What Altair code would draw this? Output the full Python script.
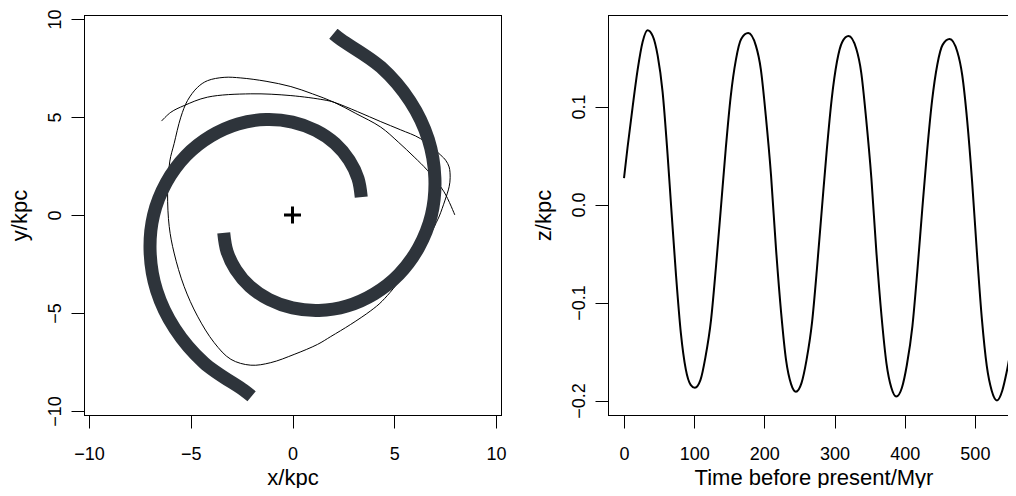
import altair as alt
import pandas as pd

# ---------------- data ----------------
# Left panel: orbit (thin line), in order along the path
orbit_x = [7.98, 7.45, 6.63, 5.98, 5.20, 4.34, 3.11, 2.04, 0.98, -0.08, -1.30, -2.54,
           -3.36, -4.18, -4.67, -5.16, -5.49, -5.82, -6.03, -6.14, -6.06, -5.82, -5.33,
           -4.67, -3.85, -3.03, -2.05, -1.07, 0.08, 1.23, 1.88, 2.86, 3.85, 4.40, 5.50,
           6.30, 6.80, 7.13, 7.22, 7.50, 7.70, 7.75, 7.70, 7.53, 7.29, 6.30, 5.30, 4.34,
           3.20, 2.04, 1.55, -0.08, -2.05, -4.18, -5.33, -5.98, -6.44]
orbit_y = [0.00, 1.18, 2.28, 2.96, 3.72, 4.48, 5.18, 5.75, 6.18, 6.55, 6.82, 6.99,
           7.02, 6.85, 6.51, 5.84, 4.99, 3.64, 2.75, 1.10, -0.59, -1.94, -3.64,
           -5.16, -6.51, -7.36, -7.66, -7.53, -7.11, -6.60, -6.20, -5.58, -4.88, -4.40, -3.05,
           -1.90, -0.95, -0.25, -0.05, 0.76, 1.44, 1.90, 2.45, 2.79, 3.05, 3.89, 4.35, 4.76,
           5.27, 5.75, 5.87, 6.09, 6.18, 6.01, 5.58, 5.24, 4.79]

# Spiral arm A (inner end near (3.4, 0.9), outer end near (-2.0, -9.25))
armA_x = [3.38, 3.22, 2.79, 2.10, 1.15, 0.00, -1.30, -2.68, -4.02, -5.24, -6.20, -6.83,
          -7.00, -6.68, -5.79, -4.35, -2.39, -2.01]
armA_y = [0.91, 1.86, 2.79, 3.64, 4.31, 4.74, 4.87, 4.64, 4.02, 3.02, 1.66, 0.00,
          -1.88, -3.85, -5.79, -7.54, -8.94, -9.25]
# Spiral arm B (inner end near (-3.4, -0.9), outer end near (2.0, 9.25))
armB_x = [-3.38, -3.22, -2.79, -2.10, -1.15, 0.00, 1.30, 2.68, 4.02, 5.24, 6.20, 6.83,
          7.00, 6.68, 5.79, 4.35, 2.39, 2.01]
armB_y = [-0.91, -1.86, -2.79, -3.64, -4.31, -4.74, -4.87, -4.64, -4.02, -3.02, -1.66, 0.00,
          1.88, 3.85, 5.79, 7.54, 8.94, 9.25]

centre_x = [0.0]
centre_y = [0.0]

# Right panel: z against time before present
time_myr = [0, 5, 12, 19.5, 26.5, 33.5, 41, 48, 55, 62, 67, 74, 81, 88, 95, 101,
            109, 116, 124, 131, 138, 145, 152, 159.5, 167, 177,
            188, 195, 202, 209.5, 216.5, 224, 231, 238, 245,
            253, 260, 268, 275, 282, 289, 296, 303.5, 311, 320,
            331, 338, 345, 352.5, 359.5, 367, 374, 381, 388,
            396, 403, 411, 418, 425, 432, 439, 446.5, 454, 464,
            475, 482, 489, 496, 503, 510, 517, 524, 531.5, 539, 545, 550]
z_kpc = [0.027, 0.058, 0.098, 0.138, 0.166, 0.178, 0.172, 0.152, 0.115, 0.052, 0.0,
         -0.071, -0.131, -0.168, -0.184, -0.187,
         -0.179, -0.156, -0.118, -0.064, -0.004, 0.057, 0.110, 0.148, 0.169, 0.175,
         0.162, 0.138, 0.091, 0.030, -0.044, -0.111, -0.159, -0.183, -0.191,
         -0.182, -0.159, -0.120, -0.065, -0.004, 0.056, 0.108, 0.146, 0.166, 0.172,
         0.159, 0.135, 0.088, 0.027, -0.047, -0.114, -0.162, -0.187, -0.196,
         -0.187, -0.164, -0.124, -0.068, -0.005, 0.055, 0.106, 0.143, 0.163, 0.169,
         0.156, 0.132, 0.086, 0.024, -0.050, -0.117, -0.165, -0.190, -0.200,
         -0.190, -0.172, -0.153]

xy_ticks = [-10, -5, 0, 5, 10]
t_ticks = [0, 100, 200, 300, 400, 500]
z_ticks = [-0.2, -0.1, 0.0, 0.1]

# ---------------- tables ----------------
orbit_df = pd.DataFrame({"x": orbit_x, "y": orbit_y, "i": list(range(len(orbit_x)))})
arms_df = pd.concat([
    pd.DataFrame({"x": armA_x, "y": armA_y, "i": list(range(len(armA_x))), "arm": "A"}),
    pd.DataFrame({"x": armB_x, "y": armB_y, "i": list(range(len(armB_x))), "arm": "B"}),
], ignore_index=True)
centre_df = pd.DataFrame({"x": centre_x, "y": centre_y})
z_df = pd.DataFrame({"t": time_myr, "z": z_kpc})

FONT = "Liberation Sans"
W_L, H = 417, 400
W_R = 400

def bottom_axis(title, values, fmt, title_x):
    return alt.Axis(orient="bottom", values=values, format=fmt, title=title, labelPadding=31,
                    labelBaseline="alphabetic", labelAlign="center", labelFontSize=18,
                    titleBaseline="alphabetic", titleAlign="center", titleX=title_x,
                    titleY=69, titleFontSize=22)

def left_axis(title, values, fmt):
    return alt.Axis(orient="left", values=values, format=fmt, title=title, labelAngle=270,
                    labelAlign="center", labelBaseline="alphabetic", labelPadding=11,
                    labelFontSize=18, titleAngle=270, titleAlign="center",
                    titleBaseline="alphabetic", titleX=-58, titleY=H / 2, titleFontSize=22)

def frame_axis(orient):
    return alt.Axis(orient=orient, ticks=False, labels=False, title=None, domain=True)

# ---------------- left panel ----------------
xs = alt.Scale(domain=[-10.25, 10.25], nice=False, zero=False)
ys = alt.Scale(domain=[-10.2, 10.2], nice=False, zero=False)

orbit = alt.Chart(orbit_df).mark_line(
    color="black", strokeWidth=1, interpolate="catmull-rom"
).encode(
    x=alt.X("x:Q", scale=xs, axis=bottom_axis("x/kpc", xy_ticks, "d", W_L / 2)),
    y=alt.Y("y:Q", scale=ys, axis=left_axis("y/kpc", xy_ticks, "d")),
    order=alt.Order("i:Q"),
)

arms = alt.Chart(arms_df).mark_line(
    color="#2E343B", strokeWidth=13, strokeCap="butt", strokeJoin="round",
    interpolate="catmull-rom"
).encode(x=alt.X("x:Q", scale=xs, axis=None), y=alt.Y("y:Q", scale=ys, axis=None),
         detail="arm:N", order=alt.Order("i:Q"))

centre = alt.Chart(centre_df).mark_point(
    shape="M-1,0L1,0M0,-1L0,1", filled=False, stroke="black", strokeWidth=3,
    size=289, opacity=1
).encode(x=alt.X("x:Q", scale=xs, axis=None), y=alt.Y("y:Q", scale=ys, axis=None))

frame_left = alt.Chart(centre_df).mark_point(opacity=0).encode(
    x=alt.X("x:Q", scale=xs, axis=frame_axis("top")),
    y=alt.Y("y:Q", scale=ys, axis=frame_axis("right")),
)

left = alt.layer(orbit, arms, centre, frame_left).resolve_axis(
    x="independent", y="independent"
).properties(width=W_L, height=H)

# ---------------- right panel ----------------
ts = alt.Scale(domain=[-22.8, 547.2], nice=False, zero=False)
zs = alt.Scale(domain=[-0.2148, 0.1935], nice=False, zero=False)

zline = alt.Chart(z_df).mark_line(
    color="black", strokeWidth=2, interpolate="monotone", clip=True
).encode(
    x=alt.X("t:Q", scale=ts,
            axis=bottom_axis("Time before present/Myr", t_ticks, "d", 205.5)),
    y=alt.Y("z:Q", scale=zs, axis=left_axis("z/kpc", z_ticks, ".1f")),
)

frame_right = alt.Chart(z_df).mark_point(opacity=0, clip=True).encode(
    x=alt.X("t:Q", scale=ts, axis=frame_axis("top")),
    y=alt.Y("z:Q", scale=zs, axis=None),
)

right = alt.layer(zline, frame_right).resolve_axis(
    x="independent", y="independent"
).properties(width=W_R, height=H)

chart = alt.hconcat(left, right, spacing=107, bounds="flush").properties(
    padding={"left": 0, "top": 0, "right": 0, "bottom": 0},
    background="white",
).configure_view(
    stroke=None
).configure_axis(
    domain=True, domainColor="black", domainWidth=1, domainCap="square",
    grid=False, tickColor="black", tickWidth=1, tickSize=13,
    labelFont=FONT, labelColor="black", labelFlush=False, labelOverlap=False,
    labelBound=False, titleFont=FONT, titleColor="black", titleFontWeight="normal",
)

chart.save("out.html", embed_options={"renderer": "svg", "actions": False})
